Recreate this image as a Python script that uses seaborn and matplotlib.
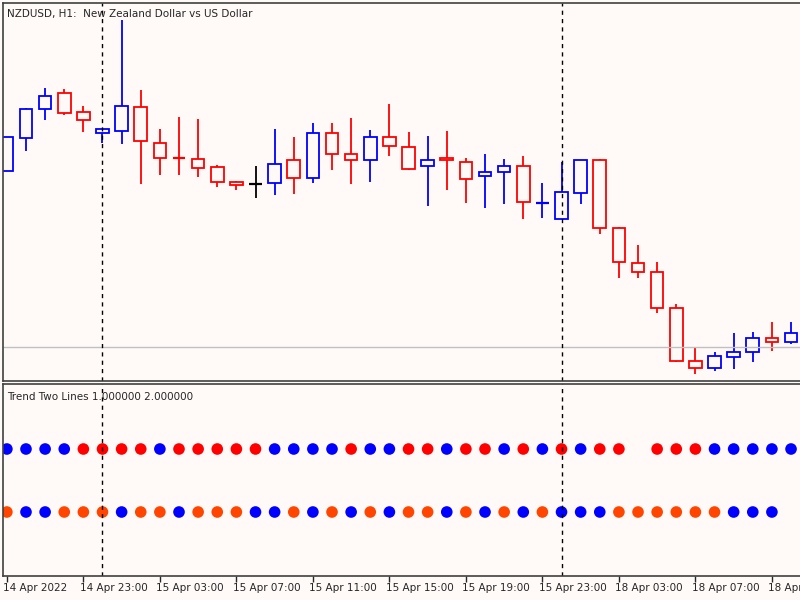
import numpy as np
import pandas as pd
import seaborn as sns
import matplotlib.pyplot as plt

# Candle data (vertical chart units, larger = lower price)
opens  = [171, 138, 109, 93, 112, 133, 131, 107, 143, 158, 159, 167, 182, 184, 183, 160, 178, 133, 154, 160, 137,
          147, 166, 158, 162, 176, 172, 166, 203, 219, 193, 160, 228, 263, 272, 308, 361, 368, 357, 352, 338, 342]
closes = [137, 109, 96, 113, 120, 129, 106, 141, 158, 159, 168, 182, 185, 184, 164, 178, 133, 154, 160, 137, 146,
          169, 160, 160, 179, 172, 166, 202, 203, 192, 160, 228, 262, 272, 308, 361, 368, 356, 352, 338, 342, 333]
highs  = [137, 108, 88, 89, 106, 129, 20, 90, 129, 117, 119, 165, 181, 166, 129, 137, 123, 123, 118, 130, 104,
          132, 136, 131, 158, 154, 159, 156, 183, 162, 160, 159, 227, 245, 262, 304, 348, 352, 333, 332, 322, 322]
lows   = [171, 151, 120, 115, 132, 143, 144, 184, 175, 175, 177, 187, 190, 198, 195, 194, 183, 170, 184, 182, 156,
          170, 206, 190, 203, 208, 204, 219, 218, 219, 204, 234, 278, 278, 313, 362, 374, 371, 369, 362, 351, 344]
candle_colors = ['blue', 'blue', 'blue', 'red', 'red', 'blue', 'blue', 'red', 'red', 'red', 'red', 'red', 'red', 'black',
                 'blue', 'red', 'blue', 'red', 'red', 'blue', 'red', 'red', 'blue', 'red', 'red', 'blue', 'blue', 'red',
                 'blue', 'blue', 'blue', 'red', 'red', 'red', 'red', 'red', 'red', 'blue', 'blue', 'blue', 'red', 'blue']

# Indicator dots (B = blue, R = red, O = orange, '-' = empty)
line1 = "BBBBRRRRBRRRRRBBBBRBBRRBRRBRBRBRR-RRRBBBBB"
line2 = "OBBOOOBOOBOOOBBOBOBOBOOBOBOBOBBBOOOOOOBBB-"
tick_labels = ["14 Apr 2022", "14 Apr 23:00", "15 Apr 03:00", "15 Apr 07:00", "15 Apr 11:00", "15 Apr 15:00",
               "15 Apr 19:00", "15 Apr 23:00", "18 Apr 03:00", "18 Apr 07:00", "18 Apr 11:00"]
tick_idx = list(range(0, 44, 4))
vlines_idx = [5, 29]
hline_level = 347

bg = '#fffaf8'
sns.set_style('white', {'axes.facecolor': bg})
plt.rcParams['font.family'] = ['DejaVu Sans']

fig = plt.figure(figsize=(8, 6), dpi=100, facecolor=bg)
W, H = 800, 600
step = 19.15
xl = (-4 / step - 0.0, (800 - 4) / step - 0.0)
xl = (-1 / step - 0.15, 797 / step - 0.15)
ax1 = fig.add_axes([3 / W, 1 - 381 / H, 1 - 3 / W, 378 / H])
ax2 = fig.add_axes([3 / W, 1 - 576 / H, 1 - 3 / W, 192 / H])

n = len(opens)
x = np.arange(n)
for i in range(n):
    c = candle_colors[i]
    top, bot = min(opens[i], closes[i]), max(opens[i], closes[i])
    ax1.vlines(i, highs[i], top, color=c, lw=1.3)
    ax1.vlines(i, bot, lows[i], color=c, lw=1.3)
    if bot - top < 1.5:
        ax1.hlines(top, i - 0.33, i + 0.33, color=c, lw=1.6)
    else:
        ax1.add_patch(plt.Rectangle((i - 0.33, top), 0.66, bot - top, fill=False, ec=c, lw=1.3))
ax1.axhline(hline_level, color='#c0c0c0', lw=1)
ax1.set_ylim(381, 3)
ax1.set_xlim(*xl)
ax1.set_xticks([]); ax1.set_yticks([])
ax1.text(0.005, 0.985, "NZDUSD, H1:  New Zealand Dollar vs US Dollar", transform=ax1.transAxes,
         fontsize=7.5, va='top', ha='left')

cmap = {'B': '#0000ff', 'R': '#ff0000', 'O': '#ff4500'}
rows = []
for yv, s in [(449, line1), (512, line2)]:
    for i, ch in enumerate(s):
        if ch != '-':
            rows.append({'x': i, 'y': yv, 'c': ch})
dots = pd.DataFrame(rows)
sns.scatterplot(data=dots, x='x', y='y', hue='c', palette=cmap, s=70, marker='o', edgecolor='none',
                legend=False, ax=ax2)
ax2.set_ylim(576, 384)
ax2.set_xlim(*xl)
ax2.set_yticks([])
ax2.set_xticks(tick_idx)
ax2.set_xticklabels([])
ax2.tick_params(axis='x', direction='out', length=4, width=1, bottom=True)
ax2.set_xlabel(''); ax2.set_ylabel('')
for i, lab in zip(tick_idx, tick_labels):
    ax2.text(i - 0.2, -0.035, lab, transform=ax2.get_xaxis_transform(), fontsize=7.5, ha='left', va='top')
ax2.text(0.005, 0.96, "Trend Two Lines 1.000000 2.000000", transform=ax2.transAxes,
         fontsize=7.5, va='top', ha='left')

for ax in (ax1, ax2):
    for i in vlines_idx:
        ax.axvline(i, color='black', lw=1, ls=(0, (3, 3)))
    for sp in ax.spines.values():
        sp.set_color('#404040'); sp.set_linewidth(1.2)
    ax.spines['right'].set_visible(False)

fig.savefig('out.png', dpi=100, facecolor=bg)
